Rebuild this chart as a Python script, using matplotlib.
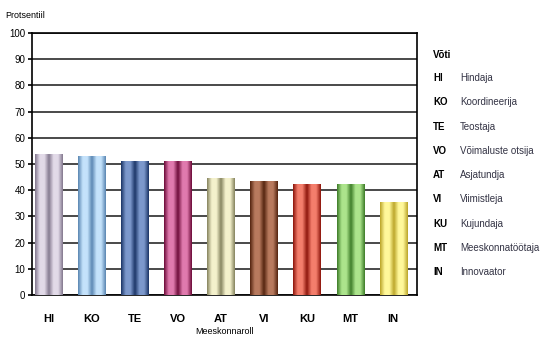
import numpy as np
import matplotlib.pyplot as plt
from matplotlib.colors import LinearSegmentedColormap

plt.rcParams['font.family'] = ['Liberation Sans', 'DejaVu Sans']

# data
codes = ["HI", "KO", "TE", "VO", "AT", "VI", "KU", "MT", "IN"]
names = ["Hindaja", "Koordineerija", "Teostaja", "Võimaluste otsija", "Asjatundja",
         "Viimistleja", "Kujundaja", "Meeskonnatöötaja", "Innovaator"]
values = [53.7, 52.9, 51.3, 51.3, 44.7, 43.4, 42.4, 42.4, 35.6]

# (dark, light) shades for the cylinder look
shades = [("#857a90", "#e2dae8"), ("#5b87b3", "#c4e2fb"), ("#1c3668", "#7c98cc"),
          ("#6e0c3a", "#e07aae"), ("#878560", "#f4f1cc"), ("#552510", "#b87a5e"),
          ("#8e160c", "#f47e6c"), ("#3f7e2a", "#ace48c"), ("#bca62a", "#fff89a")]

fig = plt.figure(figsize=(5.53, 3.37), dpi=100)
ax = fig.add_axes([0.058, 0.125, 0.696, 0.777])

x = np.arange(len(codes))
bars = ax.bar(x, values, width=0.63, color=[s[1] for s in shades], zorder=3)

# gradient fill clipped to each bar
grad = np.linspace(0, 1, 64).reshape(1, -1)
for b, (dark, light) in zip(bars, shades):
    cmap = LinearSegmentedColormap.from_list(
        "c", [dark, light, light, dark, light, light, dark])
    im = ax.imshow(grad, cmap=cmap, aspect="auto", zorder=4,
                   extent=[b.get_x(), b.get_x() + b.get_width(), 0, b.get_height()])
    im.set_clip_path(b)

ax.set_xlim(-0.38, 8.55)
ax.set_ylim(0, 100)
ax.set_yticks(range(0, 101, 10))
ax.yaxis.grid(True, color="#2a2a2a", linewidth=1.2, zorder=0)
ax.set_axisbelow(True)
for sp in ax.spines.values():
    sp.set_linewidth(1.2)
ax.tick_params(axis="y", labelsize=7, length=3, width=1.2, pad=2)
ax.set_xticks(x)
ax.set_xticklabels(codes, fontsize=8, fontweight="bold")
ax.tick_params(axis="x", length=0, pad=14)
ax.set_xlabel("Meeskonnaroll", fontsize=6.5, labelpad=2)

fig.text(0.009, 0.955, "Protsentiil", fontsize=6.5, va="center")

# key on the right
fig.text(0.783, 0.837, "Võti", fontsize=7, fontweight="bold", va="center")
for i, (c, n) in enumerate(zip(codes, names)):
    yy = 1 - (78 + i * 24.3) / 337
    fig.text(0.783, yy, c, fontsize=7, fontweight="bold", va="center")
    fig.text(0.832, yy, n, fontsize=7, va="center", color="#333344")

fig.savefig("out.png", dpi=100)
